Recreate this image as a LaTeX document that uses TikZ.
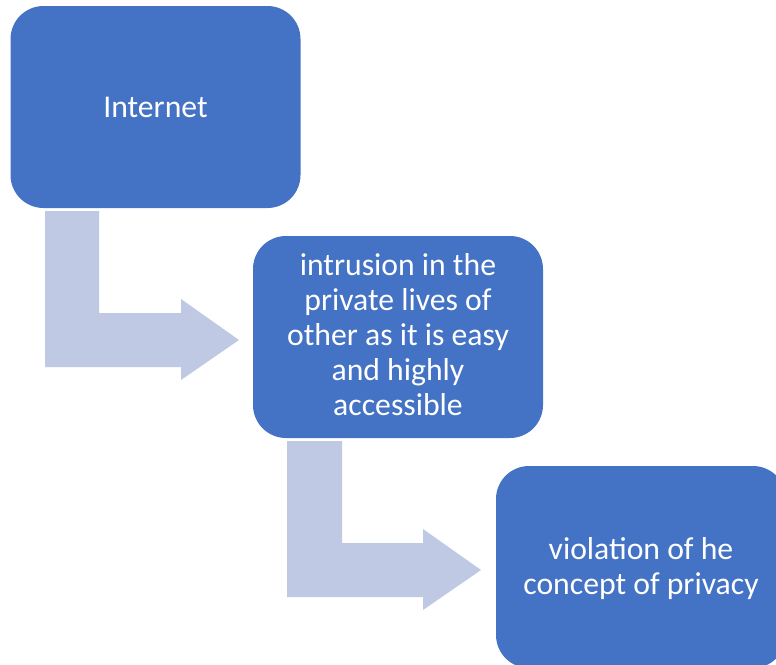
\documentclass[tikz,border=0pt]{standalone}
\usepackage{fontspec}
\setmainfont{Carlito}
\definecolor{boxblue}{RGB}{68,114,196}
\definecolor{arrowblue}{RGB}{192,201,228}
\begin{document}
\begin{tikzpicture}[x=1pt,y=-1pt,
  box/.style={fill=boxblue, draw=none, rounded corners=33pt, minimum width=290pt, minimum height=202pt,
    text=white, align=center, inner sep=0pt, font=\fontsize{31.7}{35}\selectfont},
  bent/.style={fill=arrowblue, draw=none}]
\useasboundingbox (0,0) rectangle (776,664);
\clip (0,0) rectangle (776,664);
\node[box] (n1) at (155.5,107) {Internet};
\node[box] (n2) at (398,337) {};
\node[text=white, align=center, inner sep=0pt, font=\fontsize{31.7}{35}\selectfont] (t2) at (398,335) {intrusion in the\\private lives of\\other as it is easy\\and highly\\accessible};
\node[box] (n3) at (641,567) {};
\node[text=white, align=center, inner sep=0pt, font=\fontsize{31.7}{35}\selectfont] (t3) at (641,568.5) {violation of he\\concept of privacy};
% bent arrows
\fill[bent] (45,211) -- (99,211) -- (99,313) -- (181,313) -- (181,299) -- (239,340) -- (181,380) -- (181,367) -- (45,367) -- cycle;
\fill[bent] (287,441) -- (342,441) -- (342,543) -- (423,543) -- (423,529) -- (481,570) -- (423,610) -- (423,597) -- (287,597) -- cycle;
\end{tikzpicture}
\end{document}
